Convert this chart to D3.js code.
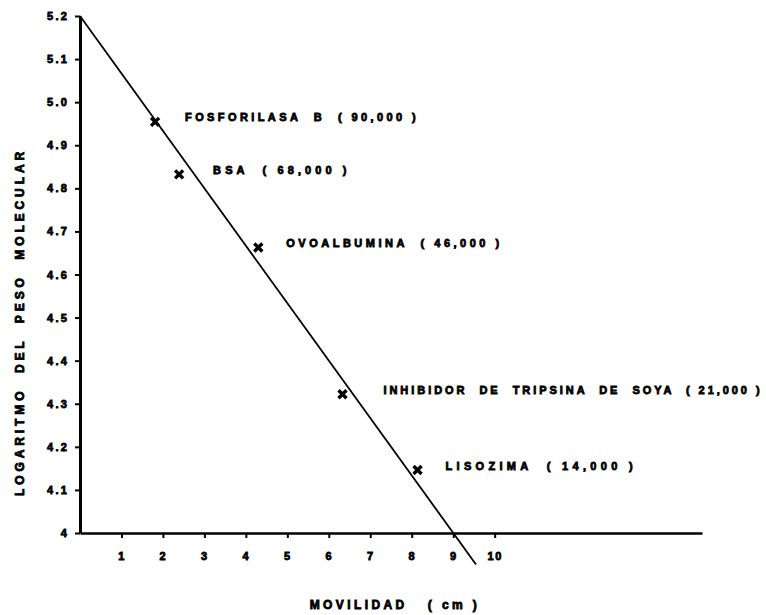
<!DOCTYPE html>
<html>
<head>
<meta charset="utf-8">
<script src="https://cdn.jsdelivr.net/npm/d3@7"></script>
<style>
  html, body { margin: 0; padding: 0; background: #fff; }
  svg { display: block; }
  text { font-family: "Liberation Sans", Arial, sans-serif; font-weight: bold; fill: #000; stroke: #000; white-space: pre; }
</style>
</head>
<body>
<svg id="chart" width="766" height="615"></svg>
<script>
// Calibration standards: relative mobility (cm) and molecular weight
const proteins  = ["FOSFORILASA  B", "BSA", "OVOALBUMINA", "INHIBIDOR  DE  TRIPSINA  DE  SOYA", "LISOZIMA"];
const mwLabels  = ["90,000", "68,000", "46,000", "21,000", "14,000"];
const molWeight = [90000, 68000, 46000, 21000, 14000];
const mobility  = [1.81, 2.39, 4.30, 6.33, 8.14];

// Fitted calibration line (mobility, log MW) endpoints
const fitX = [0, 9.55];
const fitY = [5.2, 3.927];

// Axis ticks
const xTicks = [1, 2, 3, 4, 5, 6, 7, 8, 9, 10];
const yTicks = [4, 4.1, 4.2, 4.3, 4.4, 4.5, 4.6, 4.7, 4.8, 4.9, 5.0, 5.1, 5.2];
const yTickLabels = ["4", "4.1", "4.2", "4.3", "4.4", "4.5", "4.6", "4.7", "4.8", "4.9", "5.0", "5.1", "5.2"];

// Label placement: horizontal gap from each marker and letter spacing
const labelGap = [30, 34, 28, 41, 28];
const labelSpacing = [3.4, 4.1, 3.5, 2.95, 4.3];

const svg = d3.select("#chart");
const x = d3.scaleLinear().domain([0, 15]).range([80, 702]);
const y = d3.scaleLinear().domain([4, 5.2]).range([533, 16]);

// X axis
const xAxis = svg.append("g")
  .attr("transform", `translate(0,${y(4)})`)
  .call(d3.axisBottom(x).tickValues(xTicks).tickSize(5).tickPadding(14).tickSizeOuter(0));
xAxis.select(".domain").attr("stroke", "#000").attr("stroke-width", 2.4);
xAxis.selectAll(".tick line").attr("stroke", "#000").attr("stroke-width", 2);
xAxis.selectAll(".tick text")
  .attr("font-size", 11).attr("font-family", null).attr("fill", "#000")
  .style("stroke-width", "0.8px").style("letter-spacing", "1.5px");

// Y axis
const yAxis = svg.append("g")
  .attr("transform", `translate(${x(0)},0)`)
  .call(d3.axisLeft(y).tickValues(yTicks).tickSize(5).tickPadding(6).tickSizeOuter(0)
    .tickFormat((d, i) => yTickLabels[i]));
yAxis.select(".domain").attr("stroke", "#000").attr("stroke-width", 3);
yAxis.selectAll(".tick line").attr("stroke", "#000").attr("stroke-width", 2);
yAxis.selectAll(".tick text")
  .attr("font-size", 11).attr("font-family", null).attr("fill", "#000")
  .style("stroke-width", "0.8px").style("letter-spacing", "2.2px");

// Calibration line
svg.append("path")
  .datum(fitX.map((v, i) => [v, fitY[i]]))
  .attr("fill", "none").attr("stroke", "#000").attr("stroke-width", 1.8)
  .attr("d", d3.line().x(d => x(d[0])).y(d => y(d[1])));

// Markers
const pts = mobility.map((m, i) => ({
  m, lw: Math.log10(molWeight[i]), name: proteins[i], mw: mwLabels[i],
  gap: labelGap[i], ls: labelSpacing[i]
}));
svg.selectAll(".mark").data(pts).join("path")
  .attr("class", "mark")
  .attr("transform", d => `translate(${x(d.m)},${y(d.lw)})`)
  .attr("d", "M-4,-4L4,4M4,-4L-4,4")
  .attr("stroke", "#000").attr("stroke-width", 3.4).attr("fill", "none");

// Protein labels
svg.selectAll(".lbl").data(pts).join("text")
  .attr("class", "lbl")
  .attr("x", d => x(d.m) + d.gap)
  .attr("y", d => y(d.lw) - 0.5)
  .attr("font-size", 11)
  .style("stroke-width", "0.8px")
  .style("letter-spacing", d => `${d.ls}px`)
  .text(d => `${d.name}  ( ${d.mw} )`);

// Axis titles
svg.append("text")
  .attr("transform", "translate(24,322) rotate(-90)")
  .attr("text-anchor", "middle")
  .attr("font-size", 12)
  .style("stroke-width", "0.8px")
  .style("letter-spacing", "3.9px")
  .text("LOGARITMO  DEL  PESO  MOLECULAR");

svg.append("text")
  .attr("x", 395).attr("y", 609)
  .attr("text-anchor", "middle")
  .attr("font-size", 12)
  .style("stroke-width", "0.8px")
  .style("letter-spacing", "3.4px")
  .text("MOVILIDAD   ( cm )");
</script>
</body>
</html>
